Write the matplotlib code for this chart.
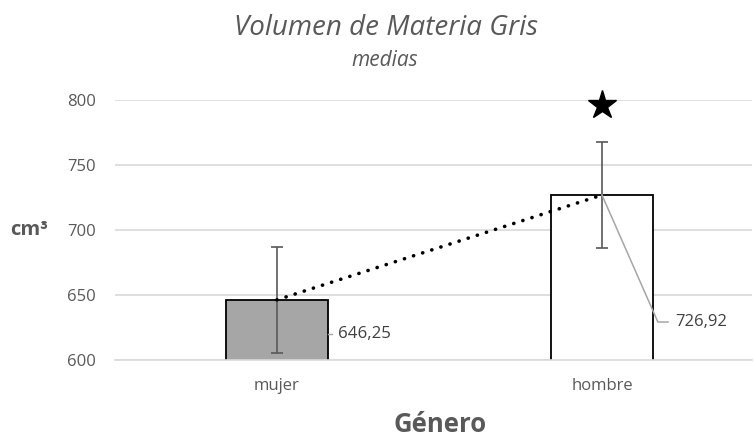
import matplotlib
matplotlib.use("Agg")
import matplotlib.pyplot as plt

categories = ["mujer", "hombre"]
means = [646.25, 726.92]
errors = [40.5, 40.5]
labels = ["646,25", "726,92"]
yticks = [600, 650, 700, 750, 800]

plt.rcParams['font.family'] = ['Open Sans', 'DejaVu Sans']
gray_text = "#595959"

fig = plt.figure(figsize=(7.54, 4.42), dpi=100)
ax = fig.add_axes([115/754, 1-360/442, (752-115)/754, 260/442])

x = list(range(len(categories)))
ax.bar(x, means, width=0.314, color=["#a6a6a6", "white"], edgecolor="black",
       linewidth=1.3, zorder=2, bottom=0)
ax.errorbar(x, means, yerr=errors, fmt="none", ecolor="#595959", elinewidth=1.2,
            capsize=4.5, capthick=1.2, zorder=4)
ax.plot(x, means, linestyle=(0, (0.05, 2.6)), color="black", linewidth=2.6, zorder=5,
        dash_capstyle="round")

ax.set_ylim(600, 800)
ax.set_xlim(-0.498, 1.4615)
ax.set_yticks(yticks)
ax.set_xticks(x)
ax.set_xticklabels(categories)
ax.yaxis.grid(True, color="#d9d9d9", linewidth=1.2, zorder=0)
ax.set_axisbelow(True)
for s in ["top", "right", "left"]:
    ax.spines[s].set_visible(False)
ax.spines["bottom"].set_color("#d9d9d9")
ax.spines["bottom"].set_linewidth(1.2)
ax.spines["bottom"].set_zorder(6)
ax.tick_params(axis="y", length=0, pad=14, labelsize=12, labelcolor=gray_text)
ax.tick_params(axis="x", length=0, pad=13, labelsize=12, labelcolor=gray_text)

# data labels with leader lines
leader = "#a6a6a6"
ax.plot([0.157, 0.169], [620, 620], color=leader, lw=1, zorder=3)
ax.text(0.188, 620, labels[0], va="center", ha="left", fontsize=12.2, color="#404040")
ax.plot([1, 1.172, 1.203], [means[1], 629.2, 629.2], color=leader, lw=1.1, zorder=6)
ax.text(1.224, 629.2, labels[1], va="center", ha="left", fontsize=12, color="#404040")

# significance star
ax.plot([1], [796.2], marker="*", markersize=21, color="black", clip_on=False, zorder=7)

fig.text(386/754, 1-28/442, "Volumen de Materia Gris", ha="center", va="center",
         fontsize=20, style="italic", color=gray_text)
fig.text(385/754, 1-60/442, "medias", ha="center", va="center",
         fontsize=15, style="italic", color=gray_text)
fig.text(29/754, 1-230/442, "cm³", ha="center", va="center",
         fontsize=14.5, fontweight="bold", color=gray_text)
fig.text(440/754, 1-425/442, "Género", ha="center", va="center",
         fontsize=18.5, fontweight="bold", color=gray_text)

fig.savefig("out.png", dpi=100)
